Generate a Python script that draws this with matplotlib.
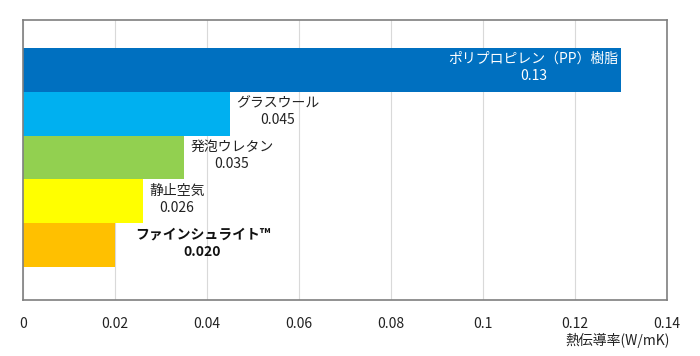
import matplotlib
matplotlib.use("Agg")
import matplotlib.pyplot as plt

plt.rcParams['font.family'] = ['Noto Sans CJK JP', 'DejaVu Sans']

categories = ["ファインシュライト™", "静止空気", "発泡ウレタン", "グラスウール", "ポリプロピレン（PP）樹脂"]
values = [0.020, 0.026, 0.035, 0.045, 0.13]
value_labels = ["0.020", "0.026", "0.035", "0.045", "0.13"]
colors = ["#FFC000", "#FFFF00", "#92D050", "#00B0F0", "#0070C0"]
xticks = [0, 0.02, 0.04, 0.06, 0.08, 0.1, 0.12, 0.14]
xtick_labels = ["0", "0.02", "0.04", "0.06", "0.08", "0.1", "0.12", "0.14"]

fig = plt.figure(figsize=(7.0, 3.56), dpi=100)
ax = fig.add_axes([23/700, 1 - 300/356, 644/700, 280/356])

ypos = list(range(len(values)))
ax.barh(ypos, values, height=1.0, color=colors, zorder=2)

ax.set_xlim(0, 0.14)
ax.set_ylim(-1.25, 5.14)
ax.set_yticks([])
ax.set_xticks(xticks)
ax.set_xticklabels(xtick_labels, fontsize=10, color="#222222")
ax.tick_params(axis='x', length=0, pad=12)
ax.grid(axis='x', color="#D9D9D9", linewidth=0.8, zorder=0)
for s in ax.spines.values():
    s.set_color("#7F7F7F")
    s.set_linewidth(1.2)

for i, (cat, v, lab) in enumerate(zip(categories, values, value_labels)):
    if i == len(values) - 1:
        ax.text(v - 0.0005, i + 0.05, cat + "\n" + lab, ha='right', va='center',
                color='white', fontsize=10, multialignment='center', linespacing=1.3)
    elif i == 0:
        ax.text(v + 0.019, i + 0.05, cat + "\n" + lab, ha='center', va='center',
                color='#111111', fontsize=10, fontweight='bold',
                multialignment='center', linespacing=1.3)
    else:
        ax.text(v + 0.0014, i + 0.05, cat + "\n" + lab, ha='left', va='center',
                color='#222222', fontsize=10, multialignment='center', linespacing=1.3)

fig.text(670/700, 1 - 340/356, "熱伝導率(W/mK)", ha='right', va='center',
         fontsize=10, color="#222222")

fig.savefig("out.png", dpi=100)
